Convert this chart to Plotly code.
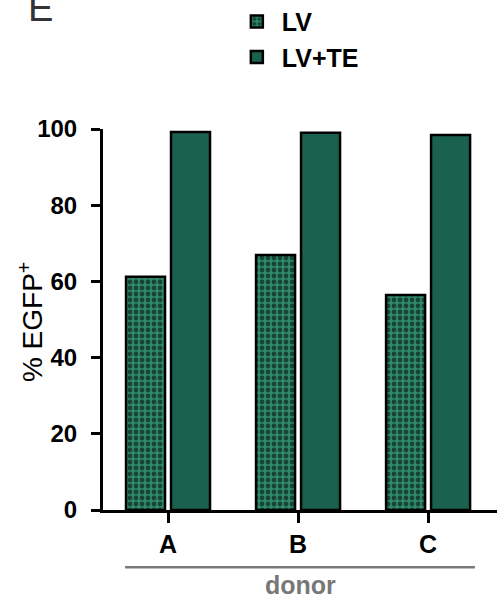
import plotly.graph_objects as go

donors = ["A", "B", "C"]
lv = [61.2, 66.9, 56.4]
lv_te = [99.2, 99.0, 98.4]
series_names = ["LV", "LV+TE"]
y_ticks = [0, 20, 40, 60, 80, 100]

FONT = "Liberation Sans, Arial, sans-serif"
DARK = "#1B6150"
TEAL = "#2F8A6C"

fig = go.Figure()
fig.add_trace(go.Bar(
    x=donors, y=lv, name=series_names[0],
    marker=dict(color=TEAL, line=dict(color="black", width=2.5),
                pattern=dict(shape=".", fgcolor="black", bgcolor=TEAL,
                             size=6, solidity=0.5, fillmode="overlay")),
))
fig.add_trace(go.Bar(
    x=donors, y=lv_te, name=series_names[1],
    marker=dict(color=DARK, line=dict(color="black", width=2.5)),
))

fig.update_layout(
    width=503, height=602,
    margin=dict(l=103, r=6, t=129, b=92, autoexpand=False),
    paper_bgcolor="white", plot_bgcolor="white",
    barmode="group", bargap=0.308, bargroupgap=0.133,
    font=dict(family=FONT, color="black"),
    legend=dict(x=0.327, y=1.342, xanchor="left", yanchor="top",
                font=dict(size=25, weight="bold"),
                bgcolor="rgba(0,0,0,0)", itemwidth=40),
    showlegend=True,
)
fig.update_xaxes(
    type="category", range=[-0.5, 2.53],
    showline=True, linecolor="black", linewidth=3,
    ticks="outside", ticklen=10, tickwidth=2.5, tickcolor="black",
    tickfont=dict(size=25, weight="bold", family=FONT),
    showgrid=False, zeroline=False,
)
fig.update_yaxes(
    range=[0, 100], tickvals=y_ticks,
    showline=True, linecolor="black", linewidth=3,
    ticks="outside", ticklen=9, tickwidth=2.5, tickcolor="black",
    tickfont=dict(size=24, weight="bold", family=FONT),
    ticklabelstandoff=9,
    showgrid=False, zeroline=False,
)

# y-axis title placed as rotated annotation
fig.add_annotation(text="% EGFP<sup>+</sup>", xref="paper", yref="paper",
                   x=-0.183, y=0.493, xanchor="center", yanchor="middle",
                   textangle=-90, showarrow=False,
                   font=dict(size=28, family=FONT, color="black"))

fig.add_shape(type="line", xref="paper", yref="paper",
              x0=0.056, x1=0.944, y0=-0.15, y1=-0.15,
              line=dict(color="#7a7a7a", width=2.5))
fig.add_annotation(text="donor", xref="paper", yref="paper",
                   x=0.5, y=-0.197, xanchor="center", yanchor="middle",
                   showarrow=False,
                   font=dict(size=25, weight="bold", color="#777777", family=FONT))
fig.add_annotation(text="E", xref="paper", yref="paper",
                   x=-0.195, y=1.257, xanchor="left", yanchor="bottom",
                   showarrow=False,
                   font=dict(size=38, color="#333333", family=FONT))

fig.write_html("out.html", config={"displayModeBar": False},
               post_script="document.body.style.margin='0';")
